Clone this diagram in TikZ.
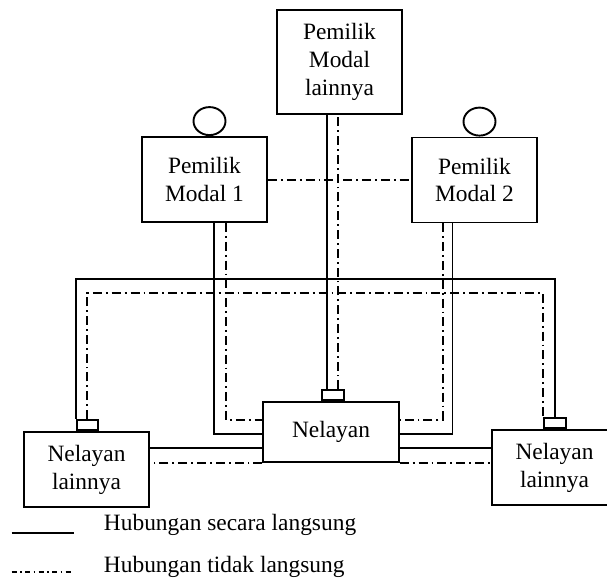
\documentclass[tikz,border=0pt]{standalone}
\usepackage{fontspec}
\setmainfont{Liberation Serif}
\usetikzlibrary{positioning, shapes.geometric}

\begin{document}
\begin{tikzpicture}[
    x=1bp, y=-1bp,
    line width=1.9bp,
    font=\fontsize{23.5}{28}\selectfont,
    box/.style={rectangle, draw, align=center, inner sep=0pt, fill=white},
    port/.style={rectangle, draw, minimum width=22bp, minimum height=10bp, inner sep=0pt, fill=white},
    head/.style={ellipse, draw, minimum width=32bp, minimum height=28bp, inner sep=0pt},
    direct/.style={draw, line width=1.9bp},
    indirect/.style={draw, line width=2bp, dash pattern=on 9bp off 4bp on 1.8bp off 4bp},
    keyline/.style={draw, line width=1.6bp, dash pattern=on 5bp off 3.5bp on 1.5bp off 3.5bp},
    keytext/.style={anchor=base west, inner sep=0pt}
  ]
  \useasboundingbox (0,0) rectangle (607,578);

  % --- OWNERS ---
  \node[box, minimum width=125bp, minimum height=104bp] (pmodalLain) at (339.5,62) {Pemilik\\Modal\\lainnya};
  \node[box, minimum width=125bp, minimum height=85bp] (pmodalA) at (204.5,179.5) {Pemilik\\Modal 1};
  \node[box, minimum width=125bp, minimum height=85bp] (pmodalB) at (474.5,180) {Pemilik\\Modal 2};

  % heads on top of the owners
  \node[head, above=0pt of pmodalA, xshift=5bp] (headA) {};
  \node[head, above=0pt of pmodalB, xshift=5bp] (headB) {};

  % --- FISHERMEN ---
  \node[box, minimum width=135.5bp, minimum height=59.5bp] (nelayan) at (331,432) {Nelayan};
  \node[box, minimum width=125bp, minimum height=75.5bp] (nelayanL) at (86.5,469.5) {Nelayan\\lainnya};
  \node[box, minimum width=125bp, minimum height=75bp] (nelayanR) at (554.5,467.5) {Nelayan\\lainnya};

  % small ports on top of the fishermen
  \node[port, above=0pt of nelayan, xshift=2.3bp] (portC) {};
  \node[port, above=0pt of nelayanL, xshift=0.7bp, minimum width=21bp] (portL) {};
  \node[port, above=0pt of nelayanR, xshift=0.5bp] (portR) {};

  % --- LINKS ---

  % 1. Other owner down to the fisherman
  \coordinate (lainS) at ([xshift=-6bp]portC.north);
  \coordinate (lainD) at ([xshift=4.7bp]portC.north);
  \draw[direct] (lainS) -- (lainS |- pmodalLain.south);
  \draw[indirect] (lainD) -- (lainD |- pmodalLain.south);

  % 2. Owner 1
  \coordinate (aS) at ([xshift=9.5bp]pmodalA.south);
  \coordinate (aD) at ([xshift=21.5bp]pmodalA.south);
  \draw[direct] (aS) |- ([yshift=-2bp]nelayan.west);
  \draw[indirect] (aD) |- ([yshift=12bp]nelayan.west);

  % 3. Owner 2
  \coordinate (bS) at ([xshift=-22bp]pmodalB.south);
  \coordinate (bD) at ([xshift=-31.8bp]pmodalB.south);
  \draw[direct] (bS) |- ([yshift=-2bp]nelayan.east);
  \draw[indirect] (bD) |- ([yshift=12bp]nelayan.east);

  % between the two owners
  \draw[indirect] (pmodalA.east) -- (pmodalA.east -| pmodalB.west);

  % 4. Big loop over the other fishermen
  \coordinate (ringS) at (0,279);
  \coordinate (ringD) at (0,293);
  \draw[direct] (portL.north west) -- (portL.north west |- ringS) -| (portR.north);
  \draw[indirect] (portL.north) -- (portL.north |- ringD) -| (portR.north west);

  % 5. Fisherman to the other fishermen
  \coordinate (sideL) at ([yshift=-16.3bp]nelayan.west);
  \coordinate (sideR) at ([yshift=-16.3bp]nelayan.east);
  \draw[direct] (sideL) -- (sideL -| nelayanL.east);
  \draw[direct] (sideR) -- (sideR -| nelayanR.west);
  \draw[indirect] (nelayan.south west) -- (nelayan.south west -| nelayanL.east);
  \draw[indirect] (nelayan.south east) -- (nelayan.south east -| nelayanR.west);

  % --- LEGEND ---
  \coordinate (keyA1) at (11.5,532.7);
  \coordinate (keyA2) at (74,532.7);
  \coordinate (keyB1) at (11.5,571.7);
  \coordinate (keyB2) at (74,571.7);
  \draw[direct, line width=1.6bp] (keyA1) -- (keyA2);
  \draw[keyline] (keyB1) -- (keyB2);
  \node[keytext] (keyTextA) at (103,530.7) {Hubungan secara langsung};
  \node[keytext] (keyTextB) at (103,572) {Hubungan tidak langsung};

\end{tikzpicture}
\end{document}
